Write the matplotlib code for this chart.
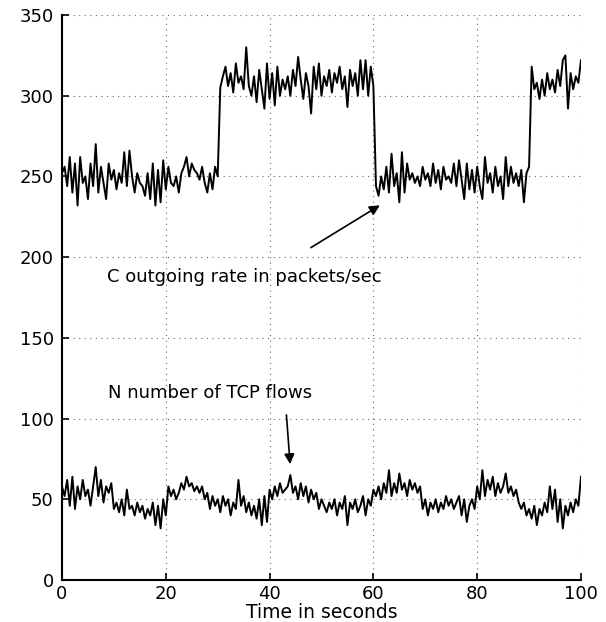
import matplotlib
matplotlib.use("Agg")
import matplotlib.pyplot as plt
import numpy as np

# outgoing rate C (packets/sec), one sample every 0.5 s
rate_c = [
    252, 256, 244, 262, 240, 258, 232, 262, 246, 250, 236, 258, 244, 270, 240, 256,
    246, 236, 258, 248, 254, 242, 252, 246, 265, 244, 266, 250, 240, 252, 246, 244,
    238, 252, 236, 258, 232, 254, 234, 260, 242, 256, 246, 244, 250, 240, 252, 256,
    262, 250, 258, 254, 252, 248, 256, 246, 240, 252, 242, 256, 250,
    305, 312, 318, 306, 314, 302, 320, 308, 312, 304, 330, 306, 300, 312, 296, 316,
    304, 292, 320, 298, 314, 294, 318, 300, 310, 304, 312, 300, 316, 306, 324, 310,
    298, 314, 306, 289, 318, 304, 320, 300, 312, 306, 316, 302, 314, 308, 318, 304,
    312, 293, 316, 306, 314, 300, 322, 304, 322, 300, 318, 306,
    244, 238, 250, 242, 256, 240, 264, 244, 252, 234, 265, 240, 258, 248, 252, 246,
    250, 244, 256, 248, 252, 244, 258, 246, 254, 242, 256, 248, 250, 246, 258, 244,
    260, 248, 236, 258, 242, 254, 240, 256, 244, 236, 262, 246, 252, 240, 256, 244,
    250, 236, 262, 244, 256, 246, 252, 244, 254, 234, 252, 256,
    318, 304, 308, 298, 310, 300, 314, 304, 310, 302, 316, 306, 322, 325, 292, 314,
    304, 312, 308, 322,
]

# number of TCP flows N, one sample every 0.5 s
flows_n = [
    58, 52, 62, 46, 64, 44, 58, 50, 62, 52, 56, 46, 58, 70, 52, 62,
    48, 58, 54, 60, 44, 48, 42, 50, 40, 56, 44, 46, 40, 48, 42, 46,
    38, 44, 40, 48, 34, 46, 32, 50, 40, 58, 52, 56, 50, 54, 60, 56,
    64, 58, 60, 55, 58, 54, 58, 50, 54, 44, 52, 46, 50, 42, 52, 46,
    50, 40, 48, 44, 62, 46, 52, 42, 48, 40, 46, 38, 50, 34, 52, 36,
    56, 50, 58, 52, 60, 54, 56, 58, 65, 54, 58, 50, 60, 52, 58, 48,
    56, 50, 54, 44, 50, 46, 42, 48, 44, 50, 40, 48, 44, 52, 34, 48,
    44, 50, 42, 46, 52, 40, 50, 46, 56, 52, 58, 50, 60, 54, 68, 52,
    60, 54, 66, 56, 60, 52, 62, 56, 60, 54, 58, 44, 50, 40, 48, 44,
    50, 42, 48, 44, 52, 46, 50, 44, 48, 52, 40, 50, 36, 46, 50, 44,
    58, 50, 68, 52, 62, 56, 64, 52, 60, 54, 58, 66, 54, 58, 52, 56,
    48, 44, 48, 40, 44, 38, 46, 34, 44, 40, 48, 42, 58, 44, 56, 36,
    50, 32, 46, 40, 48, 42, 50, 46, 64,
]

x_ticks = [0, 20, 40, 60, 80, 100]
y_ticks = [0, 50, 100, 150, 200, 250, 300, 350]

t_c = np.linspace(0, 100, len(rate_c))
t_n = np.linspace(0, 100, len(flows_n))

plt.rcParams['font.family'] = ['DejaVu Sans']

fig = plt.figure(figsize=(6.06, 6.22), dpi=100)
ax = fig.add_axes([0.1023, 0.0675, 0.8564, 0.9084])

ax.plot(t_c, rate_c, color='black', linewidth=1.4)
ax.plot(t_n, flows_n, color='black', linewidth=1.4)

ax.set_xlim(0, 100)
ax.set_ylim(0, 350)
ax.set_xticks(x_ticks)
ax.set_yticks(y_ticks)
ax.tick_params(direction='in', length=5, width=1.2, labelsize=13)
ax.tick_params(axis='x', pad=3.5)
ax.tick_params(axis='y', pad=6)
ax.grid(True, linestyle=(0, (1, 4)), color='black', linewidth=0.8, alpha=0.6)
ax.spines['top'].set_visible(False)
ax.spines['right'].set_visible(False)
ax.spines['left'].set_linewidth(1.5)
ax.spines['bottom'].set_linewidth(1.5)
ax.set_xlabel('Time in seconds', fontsize=13.5, labelpad=0)

ax.annotate('', xy=(61.7, 233), xytext=(47.5, 205),
            arrowprops=dict(arrowstyle='-|>', color='black', lw=1.2,
                            mutation_scale=15))
ax.text(8.7, 188, 'C outgoing rate in packets/sec', fontsize=13,
        va='center', ha='left')

ax.annotate('', xy=(44.0, 70), xytext=(43.2, 104),
            arrowprops=dict(arrowstyle='-|>', color='black', lw=1.2,
                            mutation_scale=15))
ax.text(8.8, 116, 'N number of TCP flows', fontsize=13,
        va='center', ha='left')

fig.savefig('out.png', dpi=100)
